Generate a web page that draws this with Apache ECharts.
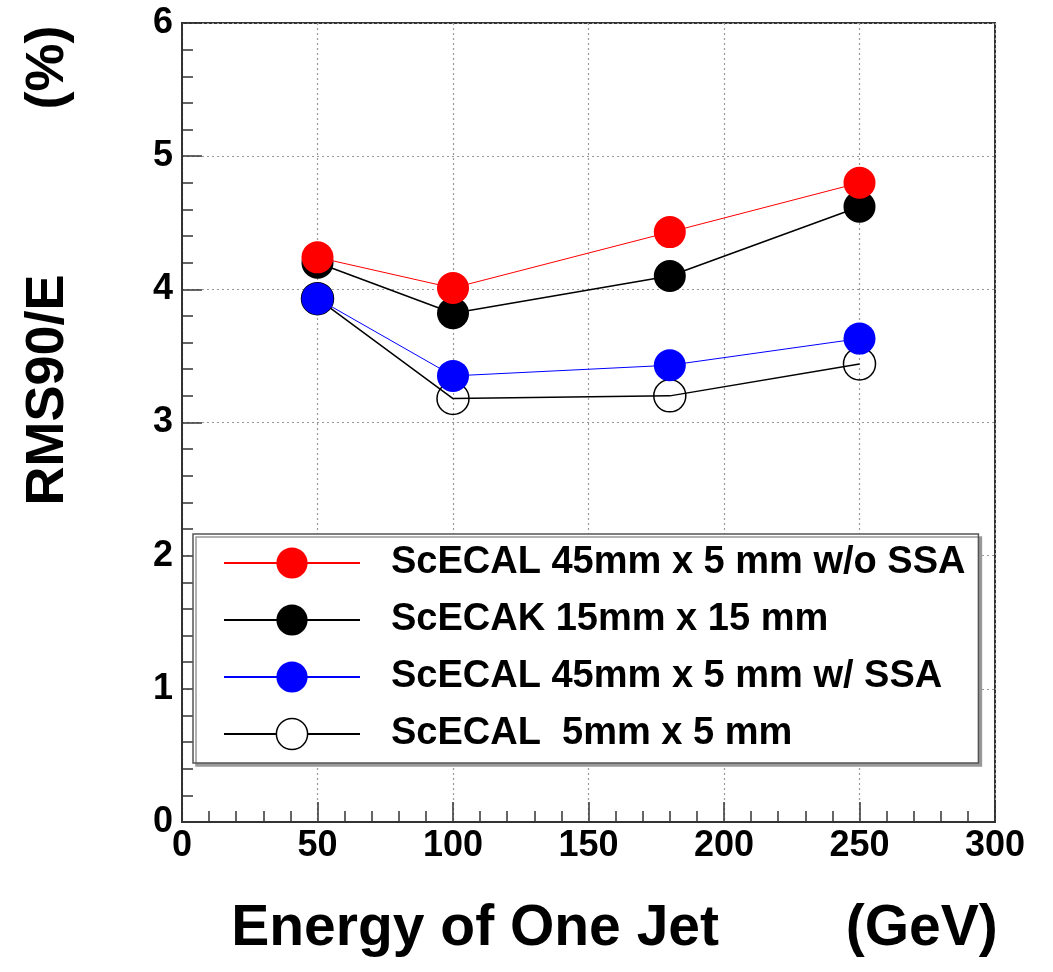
<!DOCTYPE html>
<html>
<head>
<meta charset="utf-8">
<script src="https://cdn.jsdelivr.net/npm/echarts@6/dist/echarts.min.js"></script>
<style>
html,body{margin:0;padding:0;background:#fff;}
#chart{width:1053px;height:972px;}
</style>
</head>
<body>
<div id="chart"></div>
<script>
// Data
const energies = [50, 100, 180, 250];
const seriesNames = [
  'ScECAL 45mm x 5 mm w/o SSA',
  'ScECAK 15mm x 15 mm',
  'ScECAL 45mm x 5 mm w/ SSA',
  'ScECAL  5mm x 5 mm'
];
const redValues   = [4.24, 4.01, 4.43, 4.80];
const blackValues = [4.20, 3.82, 4.10, 4.62];
const blueValues  = [3.93, 3.35, 3.43, 3.63];
const openValues  = [3.93, 3.18, 3.20, 3.44];
const xTicks = [0, 50, 100, 150, 200, 250, 300];
const yTicks = [0, 1, 2, 3, 4, 5, 6];

const FONT = 'Liberation Sans, Arial, Helvetica, sans-serif';
const pair = (xs, ys) => xs.map((x, i) => [x, ys[i]]);

const chart = echarts.init(document.getElementById('chart'), null, {renderer: 'canvas'});

function mkSeries(name, vals, lineColor, lineWidth, itemStyle, z) {
  return {
    name: name,
    type: 'line',
    data: pair(energies, vals),
    symbol: 'circle',
    symbolSize: 32,
    z: z,
    lineStyle: {color: lineColor, width: lineWidth},
    itemStyle: itemStyle,
    emphasis: {disabled: true},
    animation: false
  };
}

chart.setOption({
  animation: false,
  backgroundColor: '#fff',
  grid: {
    left: 182, right: 58, top: 23, bottom: 150,
    show: true, borderColor: '#333', borderWidth: 2
  },
  xAxis: {
    type: 'value',
    min: xTicks[0], max: xTicks[xTicks.length - 1], interval: 50,
    axisLine: {show: true, lineStyle: {color: '#333', width: 2}},
    axisTick: {show: true, inside: true, length: 20, lineStyle: {color: '#333', width: 1.5}},
    minorTick: {show: true, splitNumber: 5, length: 11, lineStyle: {color: '#333', width: 1.5}},
    splitLine: {show: true, lineStyle: {color: '#999', type: [2, 3], width: 1.2}},
    axisLabel: {
      color: '#000', fontSize: 36, fontWeight: 'bold', fontFamily: FONT, margin: 6
    },
    name: 'Energy of One Jet        (GeV)',
    nameLocation: 'middle',
    nameGap: 79,
    nameTextStyle: {
      color: '#000', fontSize: 57, fontWeight: 'bold', fontFamily: FONT,
      padding: [0, 0, 0, 52]
    }
  },
  yAxis: {
    type: 'value',
    min: yTicks[0], max: yTicks[yTicks.length - 1], interval: 1,
    axisLine: {show: true, lineStyle: {color: '#333', width: 2}},
    axisTick: {show: true, inside: true, length: 20, lineStyle: {color: '#333', width: 1.5}},
    minorTick: {show: true, splitNumber: 5, length: 11, lineStyle: {color: '#333', width: 1.5}},
    splitLine: {show: true, lineStyle: {color: '#999', type: [2, 3], width: 1.2}},
    axisLabel: {
      color: '#000', fontSize: 36, fontWeight: 'bold', fontFamily: FONT, margin: 9
    },
    name: 'RMS90/E           (%)',
    nameLocation: 'middle',
    nameRotate: 90,
    nameGap: 107,
    nameTextStyle: {
      color: '#000', fontSize: 54, fontWeight: 'bold', fontFamily: FONT,
      padding: [0, 0, 0, 314]
    }
  },
  legend: {
    orient: 'vertical',
    left: 193, top: 534,
    itemWidth: 136, itemHeight: 39, itemGap: 19,
    padding: [10, 13, 10, 30],
    backgroundColor: '#fff',
    borderColor: '#555', borderWidth: 1.5,
    shadowColor: '#999', shadowOffsetX: 3, shadowOffsetY: 3, shadowBlur: 0,
    selectedMode: false,
    textStyle: {
      color: '#000', fontSize: 38, fontWeight: 'bold', fontFamily: FONT,
      padding: [0, 0, 0, 26]
    },
    data: [
      {name: seriesNames[0]},
      {name: seriesNames[1]},
      {name: seriesNames[2]},
      {name: seriesNames[3], itemStyle: {color: '#fff', borderColor: '#000', borderWidth: 1.5}}
    ]
  },
  series: [
    mkSeries(seriesNames[0], redValues, '#ff0000', 1, {color: '#ff0000'}, 6),
    mkSeries(seriesNames[1], blackValues, '#000', 1.5, {color: '#000'}, 5),
    mkSeries(seriesNames[2], blueValues, '#0000ff', 1, {color: '#0000ff'}, 4),
    mkSeries(seriesNames[3], openValues, '#000', 1.5,
      {color: 'rgba(255,255,255,0)', borderColor: '#000', borderWidth: 1.5}, 3)
  ]
});
</script>
</body>
</html>
